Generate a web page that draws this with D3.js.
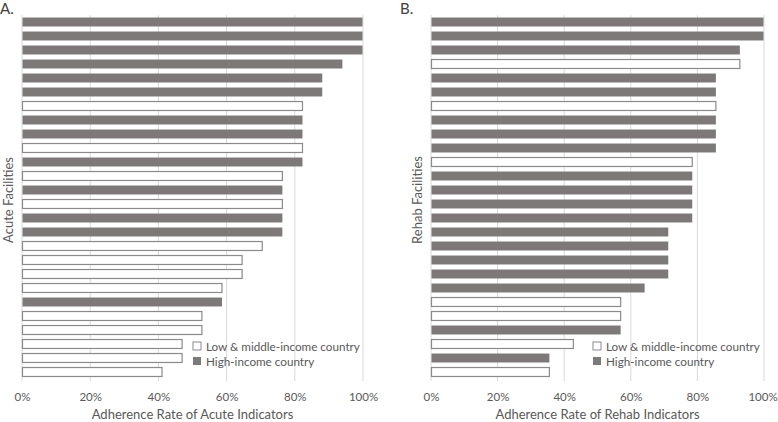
<!DOCTYPE html>
<html><head><meta charset="utf-8">
<script src="https://cdn.jsdelivr.net/npm/d3@7"></script>
<style>body{margin:0;background:#fff}svg{display:block}text{font-family:Lato,"Open Sans",sans-serif;fill:#595959}</style>
</head><body><svg id="c" width="778" height="422"></svg>
<script>
// Panel A: acute facilities (top to bottom)
const acuteValues = [100,100,100,94.1,88.2,88.2,82.4,82.4,82.4,82.4,82.4,76.5,76.5,76.5,76.5,76.5,70.6,64.7,64.7,58.8,58.8,52.9,52.9,47.1,47.1,41.2];
const acuteIncome = ["H","H","H","H","H","H","L","H","H","L","H","L","H","L","H","H","L","L","L","L","H","L","L","L","L","L"];
// Panel B: rehab facilities (top to bottom)
const rehabValues = [100,100,92.9,92.9,85.7,85.7,85.7,85.7,85.7,85.7,78.6,78.6,78.6,78.6,78.6,71.4,71.4,71.4,71.4,64.3,57.1,57.1,57.1,42.9,35.7,35.7];
const rehabIncome = ["H","H","H","L","H","H","L","H","H","H","L","H","H","H","H","H","H","H","H","H","L","L","H","L","H","L"];
const xTicks = [0,20,40,60,80,100];
const legendLabels = ["Low & middle-income country","High-income country"];

const svg = d3.select("#c");
const FILL = "#7d7979", STROKE = "#8c8a8a", GRID = "#d9d9d9";

function panel(opt){
  const g = svg.append("g");
  const x = d3.scaleLinear().domain([0,100]).range([opt.x0, opt.x1]);
  const idx = d3.range(opt.values.length);
  const y = d3.scaleBand().domain(idx).range([15, 379]).paddingInner(0.36).paddingOuter(0.18);
  g.selectAll("line.grid").data(xTicks).join("line")
    .attr("x1", d=>x(d)).attr("x2", d=>x(d)).attr("y1", 15).attr("y2", 381)
    .attr("stroke", GRID).attr("stroke-width", 1);
  g.selectAll("rect.bar").data(idx).join("rect")
    .attr("x", x(0)+0.5)
    .attr("y", i=>y(i))
    .attr("width", i=>x(opt.values[i])-x(0)-1)
    .attr("height", y.bandwidth())
    .attr("fill", i=>opt.income[i]==="H"?FILL:"#fff")
    .attr("stroke", i=>opt.income[i]==="H"?"none":STROKE)
    .attr("stroke-width", 1.2);
  const ax = g.append("g").attr("transform","translate(0,390)")
    .call(d3.axisBottom(x).tickValues(xTicks).tickFormat(d=>d+"%").tickSize(0));
  ax.select(".domain").remove();
  ax.selectAll("text").style("font-size","11.5px").attr("fill","#595959")
    .attr("dx", d=>(d===100 && opt.x1>700)?-1.5:0);
  g.append("text").attr("x",(x(0)+x(100))/2).attr("y",419).attr("text-anchor","middle")
    .style("font-size","13px").text(opt.xTitle);
  g.append("text").attr("transform",`translate(${opt.yTitleX},200) rotate(-90)`).attr("text-anchor","middle")
    .style("font-size","13px").text(opt.yTitle);
  g.append("text").attr("x",opt.labelX).attr("y",14).style("font-size","15px").style("fill","#404040").text(opt.label);
  const lg = g.append("g");
  legendLabels.forEach((t,i)=>{
    const yy = 346 + i*15;
    lg.append("rect").attr("x",opt.legX).attr("y",yy-4).attr("width",8).attr("height",8)
      .attr("fill", i===0?"#fff":FILL).attr("stroke", i===0?STROKE:"none");
    lg.append("text").attr("x",opt.legX+13).attr("y",yy+4.5).style("font-size","11.7px").text(t);
  });
}
panel({values:acuteValues,income:acuteIncome,x0:22,x1:363,xTitle:"Adherence Rate of Acute Indicators",yTitle:"Acute Facilities",yTitleX:13,label:"A.",labelX:0,legX:193});
panel({values:rehabValues,income:rehabIncome,x0:431,x1:764,xTitle:"Adherence Rate of Rehab Indicators",yTitle:"Rehab Facilities",yTitleX:422,label:"B.",labelX:400,legX:593});
</script></body></html>
